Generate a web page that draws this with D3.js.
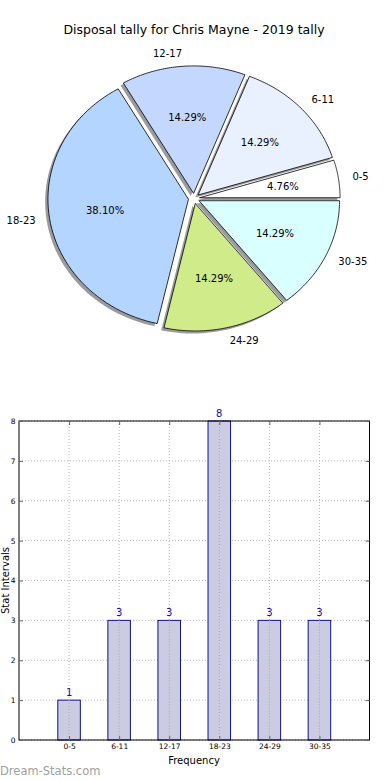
<!DOCTYPE html>
<html><head><meta charset="utf-8">
<script src="https://cdn.jsdelivr.net/npm/d3@7"></script>
<style>body{margin:0;background:#fff}svg{display:block;font-family:"DejaVu Sans",sans-serif}</style>
</head><body><svg id="c" width="390" height="780"></svg>
<script>
const categories = ["0-5","6-11","12-17","18-23","24-29","30-35"];
const counts = [1,3,3,8,3,3];
const pieColors = ["#ffffff","#e9f1ff","#c4d8ff","#b4d5ff","#d0eb8a","#d9ffff"];
const yTicks = [0,1,2,3,4,5,6,7,8];
const title = "Disposal tally for Chris Mayne - 2019 tally";

const svg = d3.select("#c");

// ---------- PIE (matplotlib-style elliptical pie) ----------
const cx = 194, cy = 198.5, rx = 140.5, ry = 127.5, explode = 0.04;
svg.append("text").attr("x",194).attr("y",34).attr("text-anchor","middle")
  .attr("font-size",12.5).attr("fill","#000").text(title);

const total = d3.sum(counts);
const pieGen = d3.pie().sort(null).value(d=>d)
  .startAngle(0).endAngle(2*Math.PI);
const arcs = pieGen(counts);

function wedgePath(a0, a1, ox, oy){
  const n = 60, pts=[[ox,oy]];
  for(let i=0;i<=n;i++){
    const t = a0 + (a1-a0)*i/n;
    pts.push([ox + rx*Math.cos(t), oy - ry*Math.sin(t)]);
  }
  return d3.line()(pts) + "Z";
}
const gPie = svg.append("g");
const wedges = arcs.map((a,i)=>{
  const a0 = a.startAngle, a1 = a.endAngle, mid=(a0+a1)/2;
  const ox = cx + explode*rx*Math.cos(mid), oy = cy - explode*ry*Math.sin(mid);
  return {a0,a1,mid,ox,oy,i};
});
wedges.forEach(w=>{
  gPie.append("path").attr("d",wedgePath(w.a0,w.a1,w.ox-0.02*rx,w.oy+0.02*ry))
    .attr("fill","#7a7a7a").attr("opacity",0.75).attr("stroke","none");
});
wedges.forEach(w=>{
  gPie.append("path").attr("d",wedgePath(w.a0,w.a1,w.ox,w.oy))
    .attr("fill",pieColors[w.i]).attr("stroke","#000").attr("stroke-width",0.8)
    .attr("stroke-linejoin","round");
});
wedges.forEach(w=>{
  const c = Math.cos(w.mid), s = Math.sin(w.mid);
  const lx = w.ox + 1.1*rx*c, ly = w.oy - 1.1*ry*s;
  gPie.append("text").attr("x",lx).attr("y",ly).attr("dy","0.35em")
    .attr("text-anchor", c>0?"start":"end").attr("font-size",10).text(categories[w.i]);
  const px = w.ox + 0.6*rx*c, py = w.oy - 0.6*ry*s;
  gPie.append("text").attr("x",px).attr("y",py).attr("dy","0.35em")
    .attr("text-anchor","middle").attr("font-size",10)
    .text((counts[w.i]/total*100).toFixed(2)+"%");
});

// ---------- BAR CHART ----------
const L=19, R=369.5, T=421, B=740;
const x = d3.scaleLinear().domain([-1,6]).range([L,R]);
const y = d3.scaleLinear().domain([0,8]).range([B,T]);
const g = svg.append("g");

g.selectAll(".vg").data(categories).enter().append("line")
  .attr("x1",(d,i)=>x(i)).attr("x2",(d,i)=>x(i)).attr("y1",T).attr("y2",B)
  .attr("stroke","#b8b8b8").attr("stroke-width",1).attr("stroke-dasharray","1,2");
g.selectAll(".hg").data(yTicks).enter().append("line")
  .attr("x1",L).attr("x2",R).attr("y1",d=>y(d)).attr("y2",d=>y(d))
  .attr("stroke","#b8b8b8").attr("stroke-width",1).attr("stroke-dasharray","1,2");

const bw = 0.45;
g.selectAll(".bar").data(counts).enter().append("rect")
  .attr("x",(d,i)=>x(i-bw/2)).attr("width",x(bw)-x(0))
  .attr("y",d=>y(d)).attr("height",d=>B-y(d))
  .attr("fill","#c8c8e0").attr("fill-opacity",0.95)
  .attr("stroke","#10108c").attr("stroke-width",1);
g.selectAll(".vg2").data(categories).enter().append("line")
  .attr("x1",(d,i)=>x(i)).attr("x2",(d,i)=>x(i)).attr("y1",(d,i)=>y(counts[i])).attr("y2",B)
  .attr("stroke","#a8a8b8").attr("stroke-width",1).attr("stroke-dasharray","1,2");

g.selectAll(".val").data(counts).enter().append("text")
  .attr("x",(d,i)=>x(i)).attr("y",d=>y(d)-4).attr("text-anchor","middle")
  .attr("font-size",10).attr("fill","#1010a0").text(d=>d);

g.append("rect").attr("x",L).attr("y",T).attr("width",R-L).attr("height",B-T)
  .attr("fill","none").attr("stroke","#000").attr("stroke-width",1);

const yAxisL = d3.axisLeft(y).tickValues(yTicks).tickSizeInner(-4).tickSizeOuter(0).tickPadding(3.5);
const gy = g.append("g").attr("transform",`translate(${L},0)`).call(yAxisL);
gy.select(".domain").remove();
gy.selectAll("text").attr("font-size",7.5).attr("font-family","DejaVu Sans").attr("fill","#000");
gy.selectAll("line").attr("stroke","#666");
const yAxisR = d3.axisRight(y).tickValues(yTicks).tickSizeInner(-4).tickSizeOuter(0).tickFormat("");
const gyr = g.append("g").attr("transform",`translate(${R},0)`).call(yAxisR);
gyr.select(".domain").remove(); gyr.selectAll("line").attr("stroke","#666");

const xAxisB = d3.axisBottom(x).tickValues(d3.range(categories.length))
  .tickFormat(i=>categories[i]).tickSizeInner(-4).tickSizeOuter(0).tickPadding(3.5);
const gx = g.append("g").attr("transform",`translate(0,${B})`).call(xAxisB);
gx.select(".domain").remove();
gx.selectAll("text").attr("font-size",7.5).attr("font-family","DejaVu Sans").attr("fill","#000");
gx.selectAll("line").attr("stroke","#666");
const xAxisT = d3.axisTop(x).tickValues(d3.range(categories.length)).tickSizeInner(-4).tickSizeOuter(0).tickFormat("");
const gxt = g.append("g").attr("transform",`translate(0,${T})`).call(xAxisT);
gxt.select(".domain").remove(); gxt.selectAll("line").attr("stroke","#666");

svg.append("text").attr("x",194).attr("y",764).attr("text-anchor","middle")
  .attr("font-size",10).text("Frequency");
svg.append("text").attr("transform","translate(8.5,580.5) rotate(-90)")
  .attr("text-anchor","middle").attr("font-size",10).text("Stat Intervals");

svg.append("text").attr("x",0).attr("y",775).attr("font-size",11.5)
  .attr("fill","#a0a0a0").attr("font-family","DejaVu Sans")
  .text("Dream-Stats.com");
</script></body></html>
